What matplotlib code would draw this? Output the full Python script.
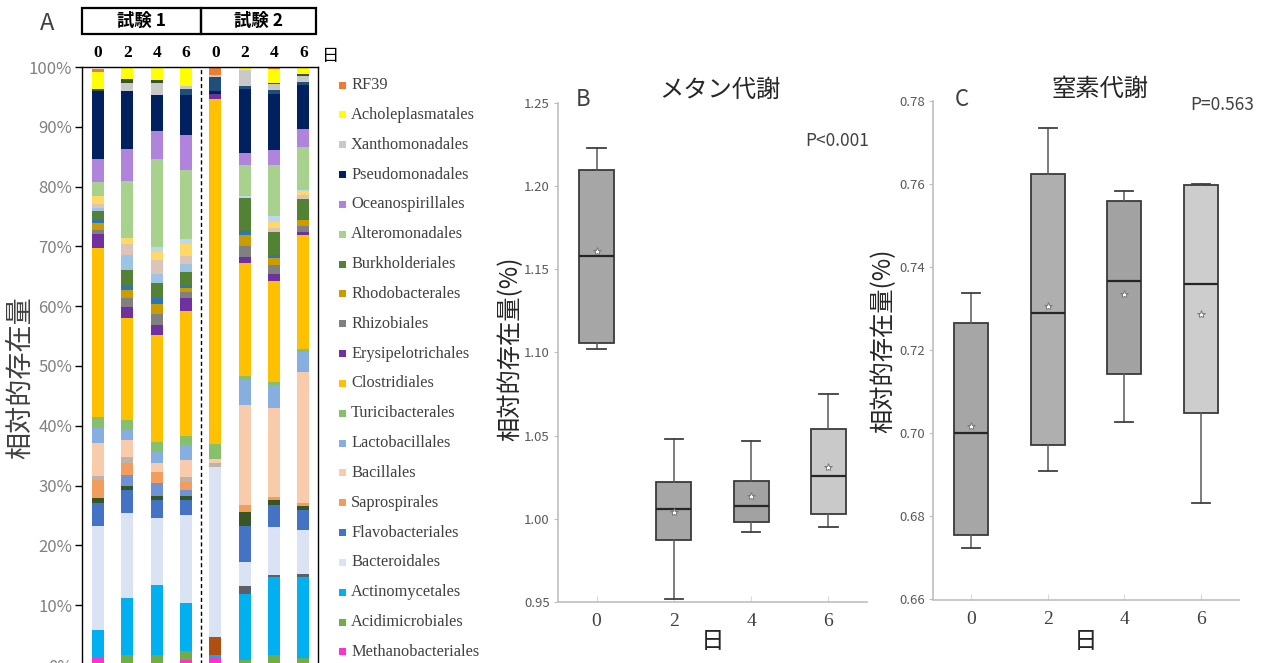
import matplotlib
matplotlib.use('Agg')
import matplotlib.pyplot as plt
from matplotlib.patches import Rectangle
import numpy as np

plt.rcParams['font.family'] = ['Noto Sans CJK JP', 'DejaVu Sans']

# ---------------- Panel A data (stacked %, bottom -> top) ----------------
trials = ['試験 1', '試験 2']
days_a = ['0', '2', '4', '6', '0', '2', '4', '6']

methanobacteriales = [1.1, 0.3, 0.3, 0.8, 1.1, 0.0, 0.0, 0.0]
acidimicrobiales   = [0.0, 1.4, 1.4, 1.55, 0.0, 0.8, 1.65, 1.1]
actinomycetales    = [4.7, 9.5, 11.6, 8.1, 0.55, 11.05, 13.0, 13.65]
other_brown        = [0, 0, 0, 0, 3.05, 0, 0, 0]
other_darkgray     = [0, 0, 0, 0, 0, 1.4, 0.4, 0.55]
bacteroidales      = [17.5, 14.3, 11.3, 14.6, 28.4, 4.0, 8.0, 7.25]
flavobacteriales   = [3.8, 3.8, 3.05, 2.6, 0.0, 5.95, 3.7, 3.35]
other_darkgreen    = [0.8, 0.55, 0.65, 0.55, 0.0, 2.4, 0.85, 0.65]
other_medblue      = [0.0, 1.95, 2.2, 1.1, 0, 0, 0, 0]
saprospirales      = [3.0, 2.05, 1.85, 1.3, 0.0, 1.1, 0.55, 0.55]
other_taupe        = [0.7, 1.0, 0.0, 0.85, 0.65, 0, 0, 0]
bacillales         = [5.5, 2.8, 1.4, 2.8, 0.75, 16.7, 14.8, 21.9]
lactobacillales    = [2.6, 1.7, 1.95, 2.6, 0.0, 4.2, 3.9, 3.35]
turicibacterales   = [1.8, 1.55, 1.65, 1.5, 2.5, 0.65, 0.55, 0.55]
clostridiales      = [28.3, 17.1, 17.85, 20.8, 57.6, 18.95, 16.85, 18.95]
erysipelotrichales = [2.3, 1.85, 1.65, 2.25, 0.95, 1.0, 1.2, 0.55]
rhizobiales        = [0.7, 1.5, 1.85, 0.95, 0.0, 1.95, 1.5, 0.95]
rhodobacterales    = [1.1, 1.4, 1.65, 0.75, 0.0, 1.8, 1.1, 1.0]
other_teal         = [0.55, 0.85, 0.95, 0.3, 0.0, 0.7, 0.55, 0.3]
burkholderiales    = [1.5, 2.5, 2.5, 2.25, 0.0, 5.45, 3.75, 3.35]
other_lightblue    = [0.5, 2.4, 1.65, 1.4, 0, 0, 0, 0]
other_peachgray    = [0.6, 1.9, 2.25, 1.3, 0, 0, 0.7, 0.55]
other_lightyellow  = [1.3, 1.0, 1.4, 2.05, 0, 0, 0.95, 0.7]
other_paleblue     = [0, 0, 0.75, 0.85, 0, 0.4, 1.0, 0.25]
alteromonadales    = [2.5, 9.6, 14.75, 11.6, 0.0, 5.1, 8.55, 7.1]
oceanospirillales  = [3.8, 5.35, 4.7, 5.7, 0.0, 2.1, 2.6, 2.95]
pseudomonadales    = [11.4, 9.6, 6.1, 6.85, 0.45, 10.7, 9.3, 7.5]
other_navy         = [0, 0, 0, 0.85, 2.35, 0.35, 0.7, 0.45]
xanthomonadales    = [0.0, 1.4, 1.85, 0.55, 0.25, 2.8, 0.95, 0.95]
other_darkgreen2   = [0.35, 0.65, 0.65, 0, 0, 0, 0.25, 0.45]
acholeplasmatales  = [2.7, 1.85, 2.0, 3.45, 0.0, 0.55, 2.3, 1.1]
rf39               = [0.6, 0, 0, 0, 1.45, 0, 0.4, 0]

# (label, values, colour) bottom -> top ; labels starting with '_' are not in the legend
stack = [
    ('Methanobacteriales', methanobacteriales, '#ff33cc'),
    ('Acidimicrobiales', acidimicrobiales, '#70ad47'),
    ('Actinomycetales', actinomycetales, '#00b0f0'),
    ('_brown', other_brown, '#b04f12'),
    ('_darkgray', other_darkgray, '#5e5e6a'),
    ('Bacteroidales', bacteroidales, '#dae3f3'),
    ('Flavobacteriales', flavobacteriales, '#4472c4'),
    ('_darkgreen', other_darkgreen, '#375623'),
    ('_medblue', other_medblue, '#6f94d6'),
    ('Saprospirales', saprospirales, '#f29c5e'),
    ('_taupe', other_taupe, '#bdb3aa'),
    ('Bacillales', bacillales, '#f8cbad'),
    ('Lactobacillales', lactobacillales, '#86aee0'),
    ('Turicibacterales', turicibacterales, '#86c06a'),
    ('Clostridiales', clostridiales, '#ffc000'),
    ('Erysipelotrichales', erysipelotrichales, '#7030a0'),
    ('Rhizobiales', rhizobiales, '#808080'),
    ('Rhodobacterales', rhodobacterales, '#c99c00'),
    ('_teal', other_teal, '#2e75b6'),
    ('Burkholderiales', burkholderiales, '#548235'),
    ('_lightblue', other_lightblue, '#9dc3e6'),
    ('_peachgray', other_peachgray, '#dcc4b8'),
    ('_lightyellow', other_lightyellow, '#ffd966'),
    ('_paleblue', other_paleblue, '#bdd7ee'),
    ('Alteromonadales', alteromonadales, '#a9d18e'),
    ('Oceanospirillales', oceanospirillales, '#b084dc'),
    ('Pseudomonadales', pseudomonadales, '#002060'),
    ('_navy', other_navy, '#1f4e79'),
    ('Xanthomonadales', xanthomonadales, '#c9c9c9'),
    ('_darkgreen2', other_darkgreen2, '#375623'),
    ('Acholeplasmatales', acholeplasmatales, '#ffff00'),
    ('RF39', rf39, '#ed7d31'),
]

# ---------------- Panel B / C data (box statistics) ----------------
days_box = ['0', '2', '4', '6']

b_whislo = [1.102, 0.952, 0.992, 0.995]
b_q1     = [1.106, 0.987, 0.998, 1.003]
b_med    = [1.158, 1.006, 1.008, 1.026]
b_q3     = [1.210, 1.022, 1.023, 1.054]
b_whishi = [1.223, 1.048, 1.047, 1.075]
b_mean   = [1.161, 1.004, 1.014, 1.031]

c_whislo = [0.6723, 0.6909, 0.7026, 0.6833]
c_q1     = [0.6754, 0.6972, 0.7143, 0.7049]
c_med    = [0.7001, 0.7290, 0.7366, 0.7358]
c_q3     = [0.7265, 0.7623, 0.7559, 0.7596]
c_whishi = [0.7338, 0.7734, 0.7583, 0.7600]
c_mean   = [0.7017, 0.7306, 0.7335, 0.7287]

b_colors = ['#a6a6a6', '#a6a6a6', '#a2a2a2', '#c9c9c9']
c_colors = ['#a6a6a6', '#afafaf', '#a2a2a2', '#cdcdcd']

# ---------------- Figure ----------------
W, H = 1271, 663
fig = plt.figure(figsize=(W / 100, H / 100), dpi=100)


def ax_px(l, t, r, b):
    return fig.add_axes([l / W, 1 - b / H, (r - l) / W, (b - t) / H])


def fx(x):
    return x / W


def fy(y):
    return 1 - y / H


# ---- Panel A ----
axA = ax_px(82, 67, 318, 665)
xpos = np.arange(len(days_a))
bottom = np.zeros(len(days_a))
for label, vals, col in stack:
    v = np.array(vals, dtype=float)
    axA.bar(xpos, v, 0.41, bottom=bottom, color=col, linewidth=0, label=label)
    bottom += v
axA.set_xlim(-0.55, 7.5)
axA.set_ylim(0, 100)
axA.axvline(3.5, color='black', ls=(0, (3, 2)), lw=1)
axA.xaxis.tick_top()
axA.set_xticks(xpos)
axA.set_xticklabels(days_a, fontfamily='Liberation Serif', fontweight='bold', fontsize=12.5)
axA.tick_params(axis='x', length=0, pad=4)
axA.set_yticks(np.arange(0, 101, 10))
axA.set_yticklabels([f'{v}%' for v in range(0, 101, 10)])
axA.tick_params(axis='y', direction='out', length=5, width=1, color='black',
                labelcolor='#808080', labelsize=12, pad=2)
for s in axA.spines.values():
    s.set_color('black')
    s.set_linewidth(1.0)
axA.set_ylabel('相対的存在量', fontsize=19.5, color='#404040')
axA.yaxis.set_label_coords((20 - 82) / 236, (665 - 378) / 598)
axA.yaxis.label.set_verticalalignment('center')

# header boxes
for i, (l, r) in enumerate([(82, 201), (201, 316)]):
    fig.patches.append(Rectangle((fx(l), fy(34)), (r - l) / W, 26 / H, fill=False,
                                 lw=1.6, edgecolor='black', transform=fig.transFigure))
    fig.text(fx((l + r) / 2), fy(21), trials[i], ha='center', va='center',
             fontsize=12.5, fontweight='bold')
fig.text(fx(331), fy(56), '日', ha='center', va='center', fontsize=12.5)
fig.text(fx(40), fy(23), 'A', ha='left', va='center', fontsize=17, color='#404040')

# legend (top -> bottom)
legend_items = [(lab, col) for lab, _, col in stack[::-1] if not lab.startswith('_')]
for i, (lab, col) in enumerate(legend_items):
    y = 85 + i * 29.84
    fig.patches.append(Rectangle((fx(339), fy(y + 3.5)), 7 / W, 7 / H, facecolor=col,
                                 edgecolor='none', transform=fig.transFigure))
    fig.text(fx(351), fy(y), lab, ha='left', va='center', fontsize=11.8,
             fontfamily='Liberation Serif', color='#404040')


# ---- Box panels ----
def box_panel(ax, whislo, q1, med, q3, whishi, mean, colors, ylim, yticks):
    stats = []
    for i in range(len(days_box)):
        stats.append(dict(whislo=whislo[i], q1=q1[i], med=med[i], q3=q3[i],
                          whishi=whishi[i], mean=mean[i], fliers=[]))
    bp = ax.bxp(stats, positions=range(len(days_box)), widths=0.45, patch_artist=True,
                showmeans=True, capwidths=0.24,
                boxprops=dict(edgecolor='#3a3a3a', linewidth=1.3),
                medianprops=dict(color='#262626', linewidth=1.6),
                whiskerprops=dict(color='#595959', linewidth=1.1),
                capprops=dict(color='#404040', linewidth=1.3),
                meanprops=dict(marker='*', markersize=6, markerfacecolor='white',
                               markeredgecolor='#7a7a7a', markeredgewidth=0.7))
    for patch, col in zip(bp['boxes'], colors):
        patch.set_facecolor(col)
    ax.set_xlim(-0.5, 3.5)
    ax.set_ylim(*ylim)
    ax.set_yticks(yticks)
    ax.set_yticklabels([f'{v:.2f}' for v in yticks])
    ax.set_xticks(range(len(days_box)))
    ax.set_xticklabels(days_box, fontfamily='Liberation Serif', fontsize=14)
    for s in ['top', 'right']:
        ax.spines[s].set_visible(False)
    for s in ['left', 'bottom']:
        ax.spines[s].set_color('#bfbfbf')
        ax.spines[s].set_linewidth(1.2)
    ax.tick_params(axis='y', length=3, color='#bfbfbf', labelcolor='#595959',
                   labelsize=9.5, pad=3)
    ax.tick_params(axis='x', direction='in', length=4, color='#d9d9d9',
                   labelcolor='#404040', pad=8)
    ax.set_xlabel('日', fontsize=17, color='#262626')
    ax.xaxis.label.set_verticalalignment('center')
    ax.set_ylabel('相対的存在量(%)', fontsize=17.5, color='#262626')
    ax.yaxis.label.set_verticalalignment('center')


axB = ax_px(558, 103, 867, 602)
box_panel(axB, b_whislo, b_q1, b_med, b_q3, b_whishi, b_mean, b_colors,
          (0.95, 1.25), np.round(np.arange(0.95, 1.2501, 0.05), 2))
axB.xaxis.set_label_coords(0.5, (602 - 642) / 499)
axB.yaxis.set_label_coords((510 - 558) / 309, (602 - 349) / 499)
fig.text(fx(576), fy(100), 'B', ha='left', va='center', fontsize=16, color='#404040')
fig.text(fx(720), fy(90), 'メタン代謝', ha='center', va='center', fontsize=17.5, color='#262626')
fig.text(fx(805), fy(141), 'P<0.001', ha='left', va='center', fontsize=12.5, color='#404040')

axC = ax_px(933, 100.7, 1239, 599.5)
box_panel(axC, c_whislo, c_q1, c_med, c_q3, c_whishi, c_mean, c_colors,
          (0.66, 0.78), np.round(np.arange(0.66, 0.7801, 0.02), 2))
axC.xaxis.set_label_coords(0.5, (599.5 - 641) / 498.8)
axC.yaxis.set_label_coords((883 - 933) / 306, (599.5 - 341) / 498.8)
fig.text(fx(955), fy(100), 'C', ha='left', va='center', fontsize=16, color='#404040')
fig.text(fx(1100), fy(89), '窒素代謝', ha='center', va='center', fontsize=17.5, color='#262626')
fig.text(fx(1190), fy(105), 'P=0.563', ha='left', va='center', fontsize=12.5, color='#404040')

fig.savefig('out.png', dpi=100)
